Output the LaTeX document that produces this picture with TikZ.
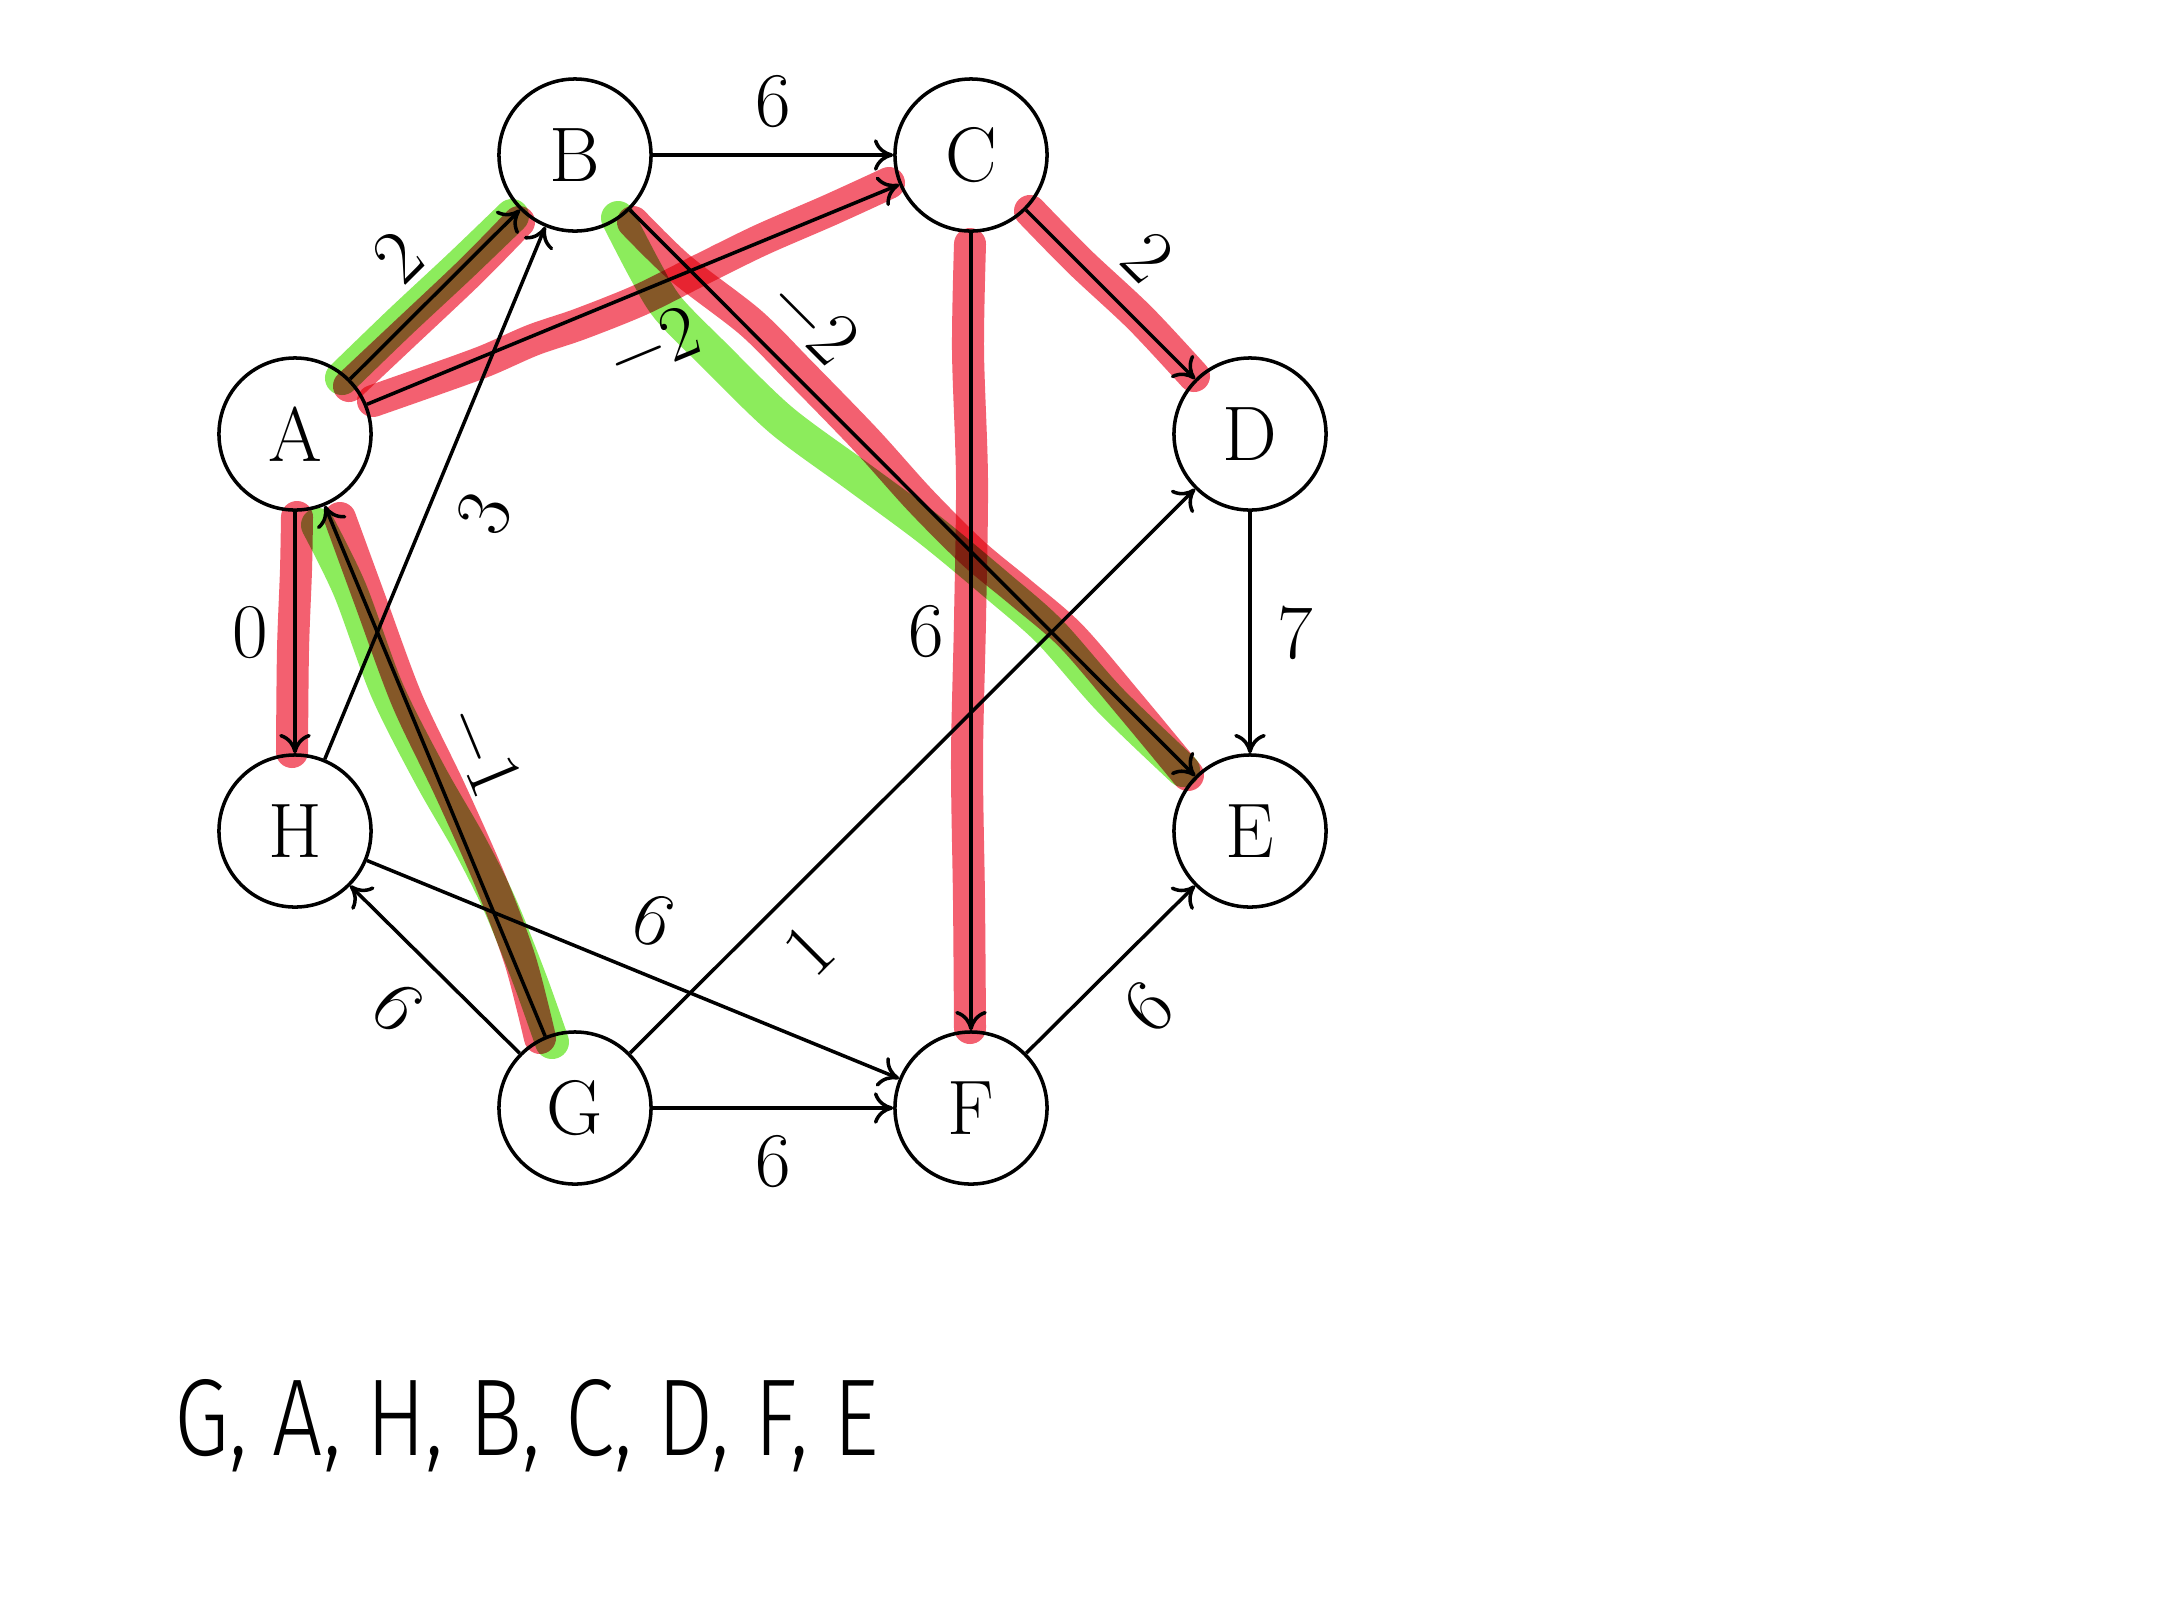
\documentclass[tikz,border=0pt]{standalone}
\usepackage{fontspec}
\usepackage{graphicx}
\newfontfamily\handfont{Fira Sans Light}
\usetikzlibrary{arrows.meta}
\definecolor{hlred}{RGB}{243,96,112}
\definecolor{hlgreen}{RGB}{140,236,92}
\begin{document}
\begin{tikzpicture}[x=0.01cm, y=-0.01cm,
  font=\fontsize{22}{26}\selectfont,
  line width=1pt,
  every node/.append style={inner sep=7.3pt},
  vertex/.style={circle, draw, minimum size=1.52cm, inner sep=0pt},
  conn/.style={-{To[length=5.5pt,width=9pt]}},
  hlr/.style={draw=hlred, line width=0.32cm, line cap=round, line join=round},
  hlg/.style={draw=hlgreen, line width=0.34cm, line cap=round, line join=round}]
\useasboundingbox (0,0) rectangle (2160,1620);
\fill[white] (0,0) rectangle (2160,1620);

% vertices
\node[vertex] (A) at (295,434)  {A};
\node[vertex] (B) at (575,155)  {B};
\node[vertex] (C) at (971,155)  {C};
\node[vertex] (D) at (1250,434) {D};
\node[vertex] (E) at (1250,831) {E};
\node[vertex] (F) at (971,1108) {F};
\node[vertex] (G) at (575,1108) {G};
\node[vertex] (H) at (295,831)  {H};

% edges
\draw[conn] (B) -- node[above] {6} (C);
\draw[conn] (A) -- node[above,sloped] {2} (B);
\draw[conn] (A) -- node[below,sloped] {−2} (C);
\draw[conn] (B) -- node[pos=0.26,above,sloped] {−2} (E);
\draw[conn] (C) -- node[above,sloped] {2} (D);
\draw[conn] (C) -- node[left] {6} (F);
\draw[conn] (D) -- node[right] {7} (E);
\draw[conn] (A) -- node[left] {0} (H);
\draw[conn] (G) -- node[above,sloped] {−1} (A);
\draw[conn] (H) -- node[below,sloped] {3} (B);
\draw[conn] (G) -- node[below,sloped] {6} (H);
\draw[conn] (H) -- node[above,sloped] {6} (F);
\draw[conn] (G) -- node[pos=0.25,below,sloped] {1} (D);
\draw[conn] (G) -- node[below] {6} (F);
\draw[conn] (F) -- node[below,sloped] {6} (E);

% highlighter strokes
\begin{scope}[blend mode=multiply]
  % green
  \draw[hlg] plot[smooth] coordinates {(342,378) (400,322) (460,266) (512,216)};
  \draw[hlg] plot[smooth] coordinates {(618,218) (645,270) (668,308) (714,355) (781,420) (857,476) (930,530) (1000,588) (1050,632) (1110,700) (1183,770)};
  \draw[hlg] plot[smooth] coordinates {(318,525) (350,590) (387,690) (430,775) (470,845) (500,905) (530,980) (552,1042)};
  % red
  \draw[hlr] plot[smooth] coordinates {(349,386) (400,338) (470,272) (519,222)};
  \draw[hlr] plot[smooth] coordinates {(373,401) (430,381) (485,361) (533,340) (580,324) (640,300) (700,270) (761,240) (830,210) (889,183)};
  \draw[hlr] plot[smooth] coordinates {(633,222) (680,268) (750,322) (800,372) (866,440) (920,500) (973,553) (1020,592) (1071,636) (1130,705) (1188,775)};
  \draw[hlr] plot[smooth] coordinates {(1030,211) (1080,262) (1140,318) (1194,376)};
  \draw[hlr] plot[smooth] coordinates {(970,244) (968,350) (972,480) (970,620) (967,760) (969,900) (970,1028)};
  \draw[hlr] plot[smooth] coordinates {(297,517) (296,570) (293,650) (292,752)};
  \draw[hlr] plot[smooth] coordinates {(340,518) (370,600) (407,700) (450,790) (490,880) (520,960) (540,1038)};
\end{scope}

% handwritten order
\node[anchor=base west, inner sep=0pt] (order) at (173,1455)
  {\resizebox{7.04cm}{0.76cm}{\handfont G, A, H, B, C, D, F, E}};
\end{tikzpicture}
\end{document}
